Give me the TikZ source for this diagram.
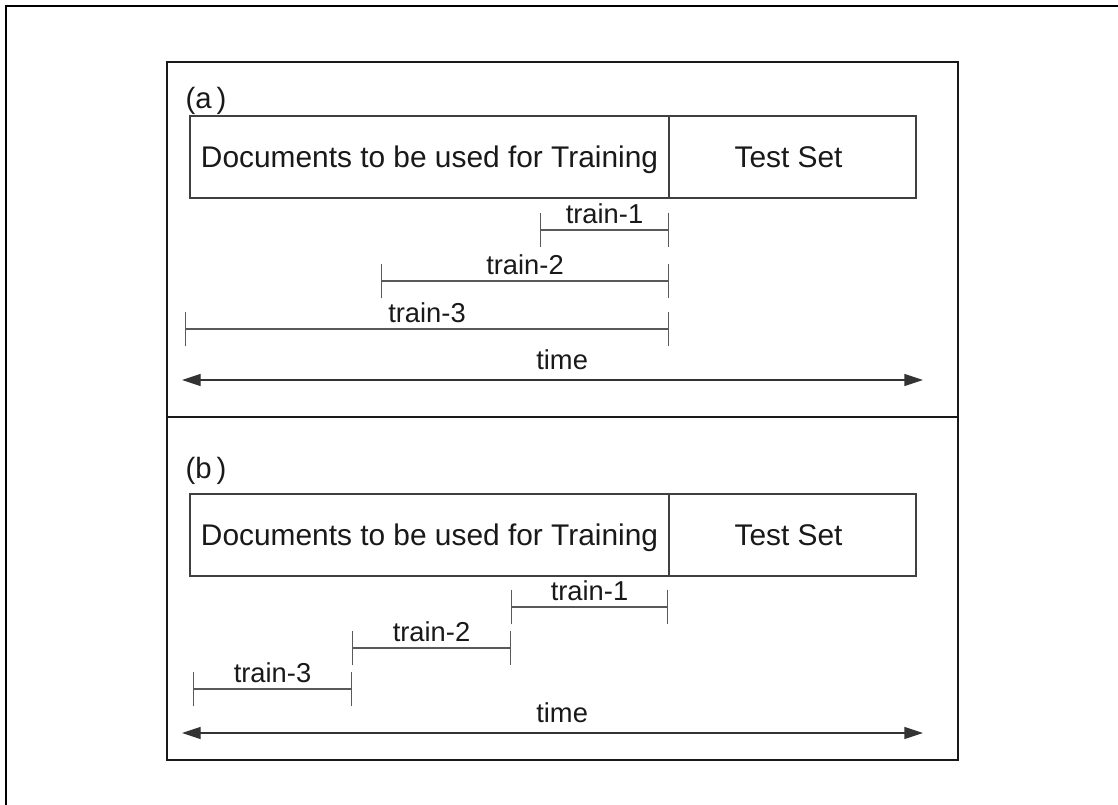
\documentclass[tikz,border=0pt]{standalone}
\usepackage{fontspec}
\setmainfont{Liberation Sans}
\usetikzlibrary{arrows.meta}
\begin{document}
\begin{tikzpicture}[x=0.75pt,y=-0.75pt,
  outerframe/.style={line width=2.2pt, draw=black},
  panelframe/.style={line width=1.2pt, draw=black!90},
  cell/.style={draw=black!75, line width=1pt, inner sep=0pt, outer sep=0pt,
    minimum height=61.5pt, text height=16pt, text depth=0pt,
    font=\fontsize{22.4}{26}\selectfont, text=black!90},
  lbl/.style={font=\fontsize{20.5}{24}\selectfont, text=black!90, inner sep=0pt},
  plbl/.style={font=\fontsize{22}{26}\selectfont, text=black!90, inner sep=0pt},
  interval/.style={draw=black!65, line width=1.1pt, {Bar[width=26pt]}-{Bar[width=26pt]}},
  timeline/.style={draw=black!80, line width=1pt,
    {Triangle[length=14pt,width=9pt]}-{Triangle[length=14pt,width=9pt]}},
  ilbl/.style={lbl, midway, above=4pt},
  tlbl/.style={lbl, pos=0.513, above=7pt}
]
\useasboundingbox (0,0) rectangle (1118,805);
\fill[white] (0,0) rectangle (1118,805);

% outer frame (left and top edges only)
\draw[outerframe] (6,805) -- (6,6) -- (1118,6);

% inner frame with divider
\draw[panelframe] (167,62) rectangle (958,760);
\draw[panelframe] (167,417) -- (958,417);

% ---------- panel (a) ----------
\node[plbl] (la) at (206,101) {(a\,)};
\node[cell, minimum width=359.25pt] (docA) at (429.5,157) {Documents to be used for Training};
\node[cell, minimum width=185.25pt] (testA) at (792.5,157) {\hspace*{-6pt}Test Set};

\coordinate (a1s) at (540,230); \coordinate (a1e) at (669,230);
\coordinate (a2s) at (381,281); \coordinate (a2e) at (669,281);
\coordinate (a3s) at (185,329); \coordinate (a3e) at (669,329);
\coordinate (ats) at (182,380); \coordinate (ate) at (923,380);

\draw[interval] (a1s) -- node[ilbl] (ta1) {train-1} (a1e);
\draw[interval] (a2s) -- node[ilbl] (ta2) {train-2} (a2e);
\draw[interval] (a3s) -- node[ilbl] (ta3) {train-3} (a3e);
\draw[timeline] (ats) -- node[tlbl] (tta) {time} (ate);

% ---------- panel (b) ----------
\node[plbl] (lb) at (206,471) {(b\,)};
\node[cell, minimum width=359.25pt] (docB) at (429.5,535) {Documents to be used for Training};
\node[cell, minimum width=185.25pt] (testB) at (792.5,535) {\hspace*{-6pt}Test Set};

\coordinate (b1s) at (511,607); \coordinate (b1e) at (668,607);
\coordinate (b2s) at (352,648); \coordinate (b2e) at (511,648);
\coordinate (b3s) at (193,689); \coordinate (b3e) at (352,689);
\coordinate (bts) at (182,733); \coordinate (bte) at (923,733);

\draw[interval] (b1s) -- node[ilbl] (tb1) {train-1} (b1e);
\draw[interval] (b2s) -- node[ilbl] (tb2) {train-2} (b2e);
\draw[interval] (b3s) -- node[ilbl] (tb3) {train-3} (b3e);
\draw[timeline] (bts) -- node[tlbl] (ttb) {time} (bte);
\end{tikzpicture}
\end{document}
